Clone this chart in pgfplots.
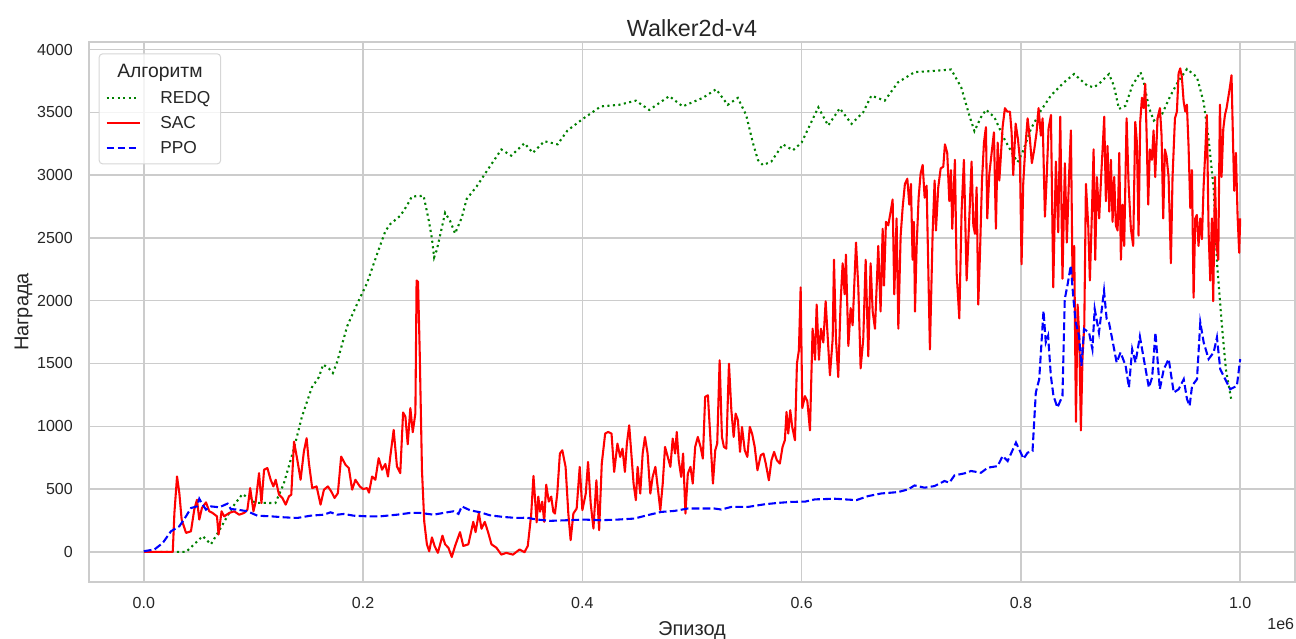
\documentclass[border=0pt]{standalone}
\usepackage{fontspec}
\setmainfont{Liberation Sans}
\usepackage{pgfplots}
\pgfplotsset{compat=1.18}

\definecolor{gridgray}{HTML}{CCCCCC}
\definecolor{legendedge}{HTML}{D6D6D6}
\definecolor{textgray}{HTML}{262626}
\definecolor{redqcol}{HTML}{008000}
\definecolor{saccol}{HTML}{FF0000}
\definecolor{ppocol}{HTML}{0000FF}

\begin{document}
\begin{tikzpicture}
\useasboundingbox (-66.75pt,-42.75pt) rectangle (905.25pt,436.5pt);
\begin{axis}[
  at={(0,0)}, anchor=south west,
  scale only axis, width=904.5pt, height=405pt,
  xmin=-50000, xmax=1050000, ymin=-240, ymax=4060,
  xtick={0,200000,400000,600000,800000,1000000},
  xticklabels={0.0,0.2,0.4,0.6,0.8,1.0},
  ytick={0,500,1000,1500,2000,2500,3000,3500,4000},
  yticklabels={0,500,1000,1500,2000,2500,3000,3500,4000},
  scaled ticks=false,
  major tick length=0pt,
  grid=major,
  major grid style={draw=gridgray, line width=1.04pt},
  axis line style={draw=gridgray, line width=1.3pt},
  tick label style={font=\fontsize{12}{14}\selectfont, text=textgray},
  xticklabel style={anchor=north, inner sep=0pt, yshift=-11pt},
  yticklabel style={anchor=east, inner sep=0pt, xshift=-12pt},
  title={Walker2d-v4},
  title style={font=\fontsize{17.5}{20}\selectfont, text=textgray,
    at={(axis description cs:0.5,1)}, anchor=base, yshift=-1.5pt},
  xlabel={Эпизод},
  xlabel style={font=\fontsize{15}{17}\selectfont, text=textgray,
    at={(axis description cs:0.5,0)}, anchor=base, yshift=-39.75pt},
  ylabel={Награда},
  ylabel style={font=\fontsize{15}{17}\selectfont, text=textgray,
    at={(axis description cs:0,0.5)}, anchor=base, yshift=45.5pt},
  legend cell align=left,
  legend image code/.code={\draw[#1] (0pt,0pt) -- (24.75pt,0pt);},
  legend style={
    at={(axis description cs:0.00807,0.979)}, anchor=north west,
    draw=legendedge, line width=0.75pt, rounded corners=2.5pt,
    fill=white, fill opacity=0.8, text opacity=1,
    inner xsep=4.7pt, inner ysep=2.5pt,
    row sep=0pt, column sep=14.8pt,
    font=\fontsize{13}{15}\selectfont, text=textgray,
    nodes={inner sep=0pt, text height=13.9pt, text depth=4.9pt},
  },
]

% legend title row
\addlegendimage{empty legend}
\addlegendentry[font=\fontsize{14.5}{16}\selectfont, text height=15.4pt, text depth=5.7pt]{\makebox[40.5pt][l]{\hspace*{-32.25pt}Алгоритм}}

% REDQ
\addplot[color=redqcol, line width=1.56pt, line cap=butt, dash pattern=on 1.56pt off 2.58pt, mark=none] table {
x y
0 0
26500 0
38600 0
53700 125
61200 60
68800 170
80800 355
89900 460
102000 390
120000 389
127600 541
136700 815
144200 1076
153300 1310
159700 1392
163600 1492
168800 1460
172400 1424
176400 1514
185500 1797
194500 1973
203600 2140
212700 2370
220300 2554
224800 2610
233900 2676
240000 2757
244500 2830
255200 2835
259700 2649
262700 2500
264800 2345
267300 2406
271800 2581
274800 2700
279400 2635
283900 2535
290000 2662
294500 2810
303600 2910
315500 3067
326100 3204
335100 3155
347200 3254
354800 3177
365300 3270
377400 3245
386400 3355
400000 3445
416800 3547
433500 3560
448800 3593
461000 3519
479300 3629
491500 3547
509800 3615
522000 3684
532600 3560
541800 3615
549400 3478
555500 3258
560100 3121
564600 3080
572300 3107
582900 3245
592100 3198
600000 3260
615200 3540
624200 3395
634800 3532
645500 3408
656100 3500
663600 3633
675800 3593
687900 3739
703000 3820
721200 3830
736400 3841
745500 3700
753000 3474
757600 3350
763600 3461
768200 3521
775800 3461
784800 3289
792400 3169
797000 3103
801500 3182
809100 3368
818200 3514
827300 3633
839400 3739
848500 3805
860600 3712
866700 3699
872700 3739
880300 3805
884800 3712
889400 3527
895500 3553
901500 3712
909100 3819
912100 3739
916700 3540
921200 3434
928800 3487
936400 3633
943900 3752
951500 3845
960600 3779
966700 3580
971200 3288
975800 2890
978800 2307
983300 1803
987000 1450
991800 1215
};
\addlegendentry{\makebox[40.5pt][l]{REDQ}}

% SAC
\addplot[color=saccol, line width=1.56pt, line join=round, mark=none] table {
x y
0 0
26400 0
27900 310
30300 600
32400 468
34500 257
38500 151
43000 164
46000 336
48500 415
50600 257
53000 349
56700 394
59700 323
62700 310
66700 283
68200 138
70900 323
73300 283
77900 310
82400 323
87000 296
91500 310
94500 336
97000 508
100000 323
102100 402
105100 627
107300 389
109700 654
112700 667
115700 574
118200 521
120300 574
123300 455
126400 429
129400 376
132400 442
134500 455
137000 878
140000 733
143000 574
146000 799
148500 905
150600 706
153600 508
157600 521
161200 376
164300 495
167900 521
170900 482
174000 429
177000 468
180000 759
184000 693
187000 667
190000 495
193000 574
197000 521
200000 500
203600 508
205400 472
208200 600
211200 574
214200 746
217300 654
220300 700
222700 600
224800 759
227900 971
230900 680
233900 627
236500 1110
238600 1076
240700 857
243100 1145
245300 953
247700 1104
248800 2161
250100 2150
251600 1612
253700 651
255800 239
258200 60
260300 5
262800 115
265200 47
268200 -8
272400 129
274800 60
277800 33
280900 -41
283900 47
288400 157
291400 47
296000 60
300500 239
302600 157
305600 308
308000 184
311000 239
314000 157
317100 60
321600 33
326100 -22
330600 -8
336700 -22
342700 19
347200 -3
350200 47
353300 294
355400 605
358300 235
359800 440
361400 320
363400 400
365200 239
367000 535
369400 400
371600 440
373500 320
375000 305
377100 464
379500 783
381700 809
384700 677
387200 305
389300 93
391800 305
394800 345
397600 677
400000 332
403100 464
405200 716
407600 385
410100 186
412800 570
415300 172
417700 703
420800 942
423500 955
426600 942
429000 637
432000 862
434500 756
436600 822
438800 637
440600 862
442700 1008
444900 756
446700 544
448800 411
450400 677
452800 464
455000 783
457100 915
459500 783
462000 464
464100 597
466600 677
468700 517
471100 332
473300 544
475400 836
477900 756
480300 677
482400 902
484600 783
486100 955
487900 730
490100 597
491900 783
494000 305
496200 623
498600 677
500700 544
502900 836
505300 915
507800 836
509900 743
512000 1234
514500 1247
516600 929
519100 544
521200 809
523000 862
525200 1526
527300 915
529100 836
531300 822
533700 1499
535900 1128
538000 915
539800 1101
541900 1048
543800 796
545600 995
548100 809
550500 756
552700 995
554800 942
557200 836
559700 650
562700 769
565200 783
567300 703
570100 570
572500 730
574900 796
577400 730
580100 703
582600 836
584700 889
586200 1114
587800 942
589600 1128
591400 995
593900 889
595700 1499
597500 1605
599100 2106
600600 1145
603000 1240
605200 1200
607600 967
610000 1777
612200 1530
613700 1969
615800 1530
617600 1777
619800 1667
621900 1996
623700 1722
625800 1406
628300 1694
629500 2326
631300 1694
633400 1392
635600 1996
637400 2298
639200 2051
640400 2367
642600 1639
644700 1941
646500 1804
649600 2463
651700 2106
653800 1461
656200 1694
658400 2326
660800 1557
662900 2298
664800 1914
666900 1777
669900 2436
672000 1914
673900 2573
675100 2120
676900 2628
679000 2600
681200 2710
683000 2806
684500 2051
686600 2655
688200 1777
690300 2518
692100 2738
694200 2930
696400 2971
698200 2765
699700 2930
701200 2326
702400 2628
703400 1914
704900 2436
706700 2820
708500 3012
710400 3081
712200 2820
714000 2916
717000 1612
719500 2545
721300 2957
722500 2559
724600 2902
726800 3053
729200 3067
730700 3245
732800 3176
734700 2793
736200 3040
737400 2573
739800 3122
741400 2216
743800 1859
745900 2710
748000 3122
750500 2161
752900 2655
755000 3108
756600 2600
758100 2532
759600 2902
761100 1969
762600 2353
764500 2957
766300 3259
768100 3382
769300 2655
771200 3012
773300 3176
775400 3341
777200 2573
778800 3259
780300 2957
781500 3122
783300 3382
785400 3533
787600 3506
790000 3506
791500 3341
793000 3000
795200 3410
797300 3286
799100 3122
800600 2290
802100 2930
803900 3205
806100 3452
808200 3287
810000 3095
812200 3205
814300 3342
816100 3534
818200 3314
819800 3452
821900 2669
823400 2957
825200 3369
827400 3479
829500 2106
831900 3108
834000 2545
835900 3465
837900 2175
840100 3095
841900 2463
844100 3040
845600 3356
847100 2161
848600 2436
850200 1035
851700 1969
853200 1722
854700 967
856200 1557
857800 1804
859300 2930
861400 2600
862900 2161
864800 2710
866300 3205
867800 2326
869300 2985
871400 2655
873000 2957
874500 3205
876000 3465
877500 2793
879000 3232
880600 2710
882100 3122
883600 2628
885100 2985
886600 2600
888200 2559
889700 3177
891200 2326
892700 2765
894200 2436
896400 3452
898200 2930
900300 2573
902400 2436
904300 3424
905800 3259
907300 2518
908800 3424
910400 3616
911900 3534
913400 3726
914600 3342
916100 2765
917600 3205
919500 3122
921000 3356
922500 2985
924600 3452
926800 3534
928300 3314
929800 2655
931300 3205
932800 3150
934700 2985
936800 2298
938300 2985
940500 3452
942300 3506
943800 3809
945300 3850
946800 3781
948400 3589
949900 3506
951400 3561
952900 3232
954500 2738
956000 3040
957500 2024
959000 2655
960500 2683
962000 2436
963600 2655
965100 2490
966600 2902
968100 3177
969600 3479
971200 2545
972700 2161
974200 2655
975400 1996
977000 2985
978500 2436
980000 2326
981500 3561
983000 2985
984600 3369
986100 3479
987600 3534
989100 3616
990600 3699
992100 3795
993700 3177
994600 2875
996100 3177
997600 2683
999100 2381
1000000 2655
};
\addlegendentry{\makebox[40.5pt][l]{SAC}}

% PPO
\addplot[color=ppocol, line width=1.56pt, line cap=butt, dash pattern=on 5.78pt off 2.5pt, mark=none] table {
x y
0 5
9700 19
17300 71
24800 164
32400 204
38500 283
43000 349
48500 362
50600 423
53600 376
56700 336
61200 362
68800 355
76400 384
79400 341
85500 336
94500 323
103600 288
115800 283
127900 275
140000 270
152100 288
164200 296
170300 315
176400 296
182400 302
191500 288
203600 283
215800 283
230900 296
243000 310
252100 310
264200 296
273300 310
282400 323
287000 302
290000 362
297600 331
306700 315
315800 291
327900 278
340000 270
349100 272
358200 258
371000 247
386300 252
401500 257
416800 252
432100 257
447300 265
459500 292
471800 318
484000 326
496200 345
508400 345
520600 345
526700 337
535900 358
551100 358
566400 379
578600 390
590800 398
603100 400
612100 418
630300 423
650000 412
660600 444
672700 465
687900 476
697000 497
703000 529
712100 511
721200 524
730300 564
734800 551
739400 609
748500 625
754500 644
763600 630
769700 670
778800 683
783300 763
787900 723
795500 870
802400 742
806100 790
810600 803
813600 1269
816700 1375
820600 1920
822700 1668
824800 1721
827300 1402
829700 1242
833300 1149
837900 1242
840000 2013
842400 2120
845500 2280
847900 2013
850000 1827
853000 1721
855200 1482
857600 1774
862100 1747
865200 1614
867300 1934
871200 1747
875800 2080
878200 1854
880300 1827
883300 1694
887300 1508
890900 1588
895500 1482
898500 1309
901500 1614
904500 1508
908500 1715
912100 1535
916700 1309
919700 1389
922700 1747
926700 1295
930300 1455
934800 1535
939400 1269
943900 1295
948500 1375
951500 1216
953900 1162
956100 1322
960600 1375
963600 1827
966700 1668
971200 1535
975800 1588
978800 1708
981800 1455
984800 1402
990900 1295
997000 1322
1000000 1535
};
\addlegendentry{\makebox[40.5pt][l]{PPO}}
\end{axis}

% offset text of the x axis, right-aligned under the axis box
\node[anchor=north east, inner sep=0pt, font=\fontsize{12}{14}\selectfont, text=textgray]
  at ([xshift=-0.5pt, yshift=-27pt]current axis.south east) {1e6};
\end{tikzpicture}
\end{document}
